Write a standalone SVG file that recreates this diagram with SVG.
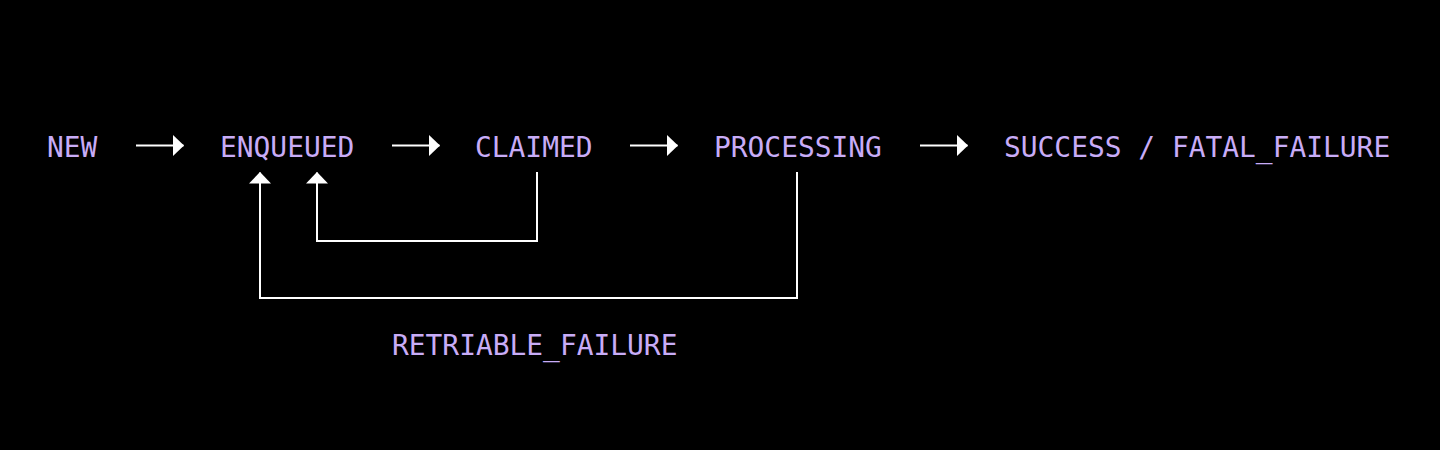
<svg xmlns="http://www.w3.org/2000/svg" width="1440" height="450" viewBox="0 0 1440 450">
<style>
.t{font-family:"DejaVu Sans Mono","Liberation Mono",monospace;font-size:27.9px;fill:#c8acf7}
.c{stroke:#fff;stroke-width:2;fill:none}
</style>
<defs>
<marker id="ah" markerUnits="userSpaceOnUse" markerWidth="12" markerHeight="22" refX="11" refY="11" orient="auto" viewBox="0 0 12 22">
<path d="M0,0 L11.5,11 L0,22 z" fill="#fff"/>
</marker>
</defs>
<rect width="1440" height="450" fill="#000"/>
<g id="new"><text class="t" x="47" y="157">NEW</text></g>
<g id="enqueued"><text class="t" x="220" y="157">ENQUEUED</text></g>
<g id="claimed"><text class="t" x="475" y="157">CLAIMED</text></g>
<g id="processing"><text class="t" x="714" y="157">PROCESSING</text></g>
<g id="success"><text class="t" x="1004" y="157">SUCCESS / FATAL_FAILURE</text></g>
<g id="retriable"><text class="t" x="392" y="355">RETRIABLE_FAILURE</text></g>
<g id="connectors">
<path class="c" d="M136,145.5 H183.5" marker-end="url(#ah)"/>
<path class="c" d="M392,145.5 H439.5" marker-end="url(#ah)"/>
<path class="c" d="M630,145.5 H677.5" marker-end="url(#ah)"/>
<path class="c" d="M920,145.5 H967.5" marker-end="url(#ah)"/>
<path class="c" d="M537,172 V241 H317 V172.5" marker-end="url(#ah)"/>
<path class="c" d="M797,172 V298 H260 V172.5" marker-end="url(#ah)"/>
</g>
</svg>
